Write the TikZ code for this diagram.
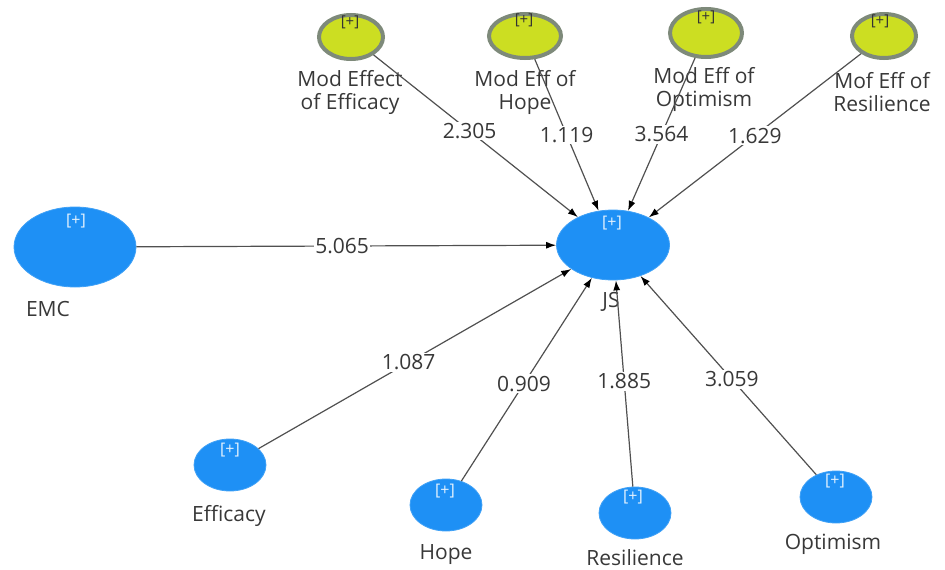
\documentclass[tikz,border=0pt]{standalone}
\usepackage{fontspec}
\setmainfont{Open Sans}
\usetikzlibrary{shapes.geometric,arrows.meta}

\newlength{\du}
\setlength{\du}{1pt}

\definecolor{latentblue}{RGB}{30,144,245}
\definecolor{modfill}{RGB}{204,222,34}
\definecolor{modring}{RGB}{126,138,122}
\definecolor{pathgray}{RGB}{80,80,80}

\tikzset{
  latent/.style={ellipse,fill=latentblue,draw=latentblue!85!white,line width=0.8\du,inner sep=0pt},
  modvar/.style={ellipse,fill=modfill,draw=modring,line width=4\du,inner sep=0pt},
  plus/.style={font=\fontsize{16}{16}\selectfont,text=white!88!latentblue,inner sep=0pt},
  modplus/.style={font=\fontsize{15}{15}\selectfont,text=black!80,inner sep=0pt},
  varname/.style={font=\fontsize{21}{23}\selectfont,text=black!78,align=center,inner sep=0pt},
  coef/.style={font=\fontsize{21}{21}\selectfont,fill=white,inner sep=1.5\du,text=black!78},
  pathline/.style={draw=pathgray,line width=1.2\du,-{Latex[length=10pt,width=7pt,color=black]}},
}

\begin{document}
\begin{tikzpicture}
\pgftransformxscale{1.000000}
\pgftransformyscale{-1.000000}
\useasboundingbox (0\du,0\du) rectangle (945\du,570\du);

% constructs
\node[latent,minimum width=122\du,minimum height=80\du] (emc) at (75\du,247\du) {};
\node[latent,minimum width=113\du,minimum height=70\du] (js) at (613\du,245\du) {};
\node[latent,minimum width=72\du,minimum height=52\du] (eff) at (230\du,465\du) {};
\node[latent,minimum width=72\du,minimum height=52\du] (hope) at (446\du,505\du) {};
\node[latent,minimum width=72\du,minimum height=52\du] (res) at (635\du,513\du) {};
\node[latent,minimum width=72\du,minimum height=52\du] (opt) at (836\du,497\du) {};

% moderating effects
\node[modvar,minimum width=64\du,minimum height=44\du] (meff) at (351\du,37\du) {};
\node[modvar,minimum width=72\du,minimum height=44\du] (mhope) at (525\du,36\du) {};
\node[modvar,minimum width=72\du,minimum height=48\du] (mopt) at (706\du,33\du) {};
\node[modvar,minimum width=64\du,minimum height=44\du] (mres) at (884\du,36\du) {};

\node[plus] (emcp) at (76\du,221\du) {[+]};
\node[plus] (jsp) at (612\du,223\du) {[+]};
\node[plus] (effp) at (230\du,450\du) {[+]};
\node[plus] (hopep) at (445\du,491\du) {[+]};
\node[plus] (resp) at (633\du,497\du) {[+]};
\node[plus] (optp) at (835\du,481\du) {[+]};
\node[modplus] (meffp) at (350\du,22\du) {[+]};
\node[modplus] (mhopep) at (524\du,20\du) {[+]};
\node[modplus] (moptp) at (706\du,17\du) {[+]};
\node[modplus] (mresp) at (880\du,21\du) {[+]};

% names
\node[varname] (emcn) at (48\du,309\du) {EMC};
\node[varname] (jsn) at (611\du,302\du) {JS};
\node[varname] (effn) at (229\du,516\du) {Efficacy};
\node[varname] (hopen) at (446\du,555\du) {Hope};
\node[varname] (resn) at (635\du,558\du) {Resilience};
\node[varname] (optn) at (833\du,544\du) {Optimism};
\node[varname] (meffn) at (350\du,92\du) {Mod Effect\\of Efficacy};
\node[varname] (mhopen) at (525\du,92\du) {Mod Eff of\\Hope};
\node[varname] (moptn) at (704\du,89\du) {Mod Eff of\\Optimism};
\node[varname] (mresn) at (882\du,92\du) {Mof Eff of\\Resilience};

% paths into JS
\draw[pathline] (meff) -- node[coef,pos=0.47] (c1) {2.305} (js);
\draw[pathline] (mhope) -- node[coef,pos=0.5] (c2) {1.119} (js);
\draw[pathline] (mopt) -- node[coef,pos=0.5] (c3) {3.564} (js);
\draw[pathline] (mres) -- node[coef,pos=0.5] (c4) {1.629} (js);
\draw[pathline] (emc) -- node[coef,pos=0.49] (c5) {5.065} (js);
\draw[pathline] (eff) -- node[coef,pos=0.48] (c6) {1.087} (js);
\draw[pathline] (hope) -- node[coef,pos=0.48] (c7) {0.909} (js);
\draw[pathline] (res) -- node[coef,pos=0.51] (c8) {1.885} (js);
\draw[pathline] (opt) -- node[coef,pos=0.48] (c9) {3.059} (js);

\end{tikzpicture}
\end{document}
